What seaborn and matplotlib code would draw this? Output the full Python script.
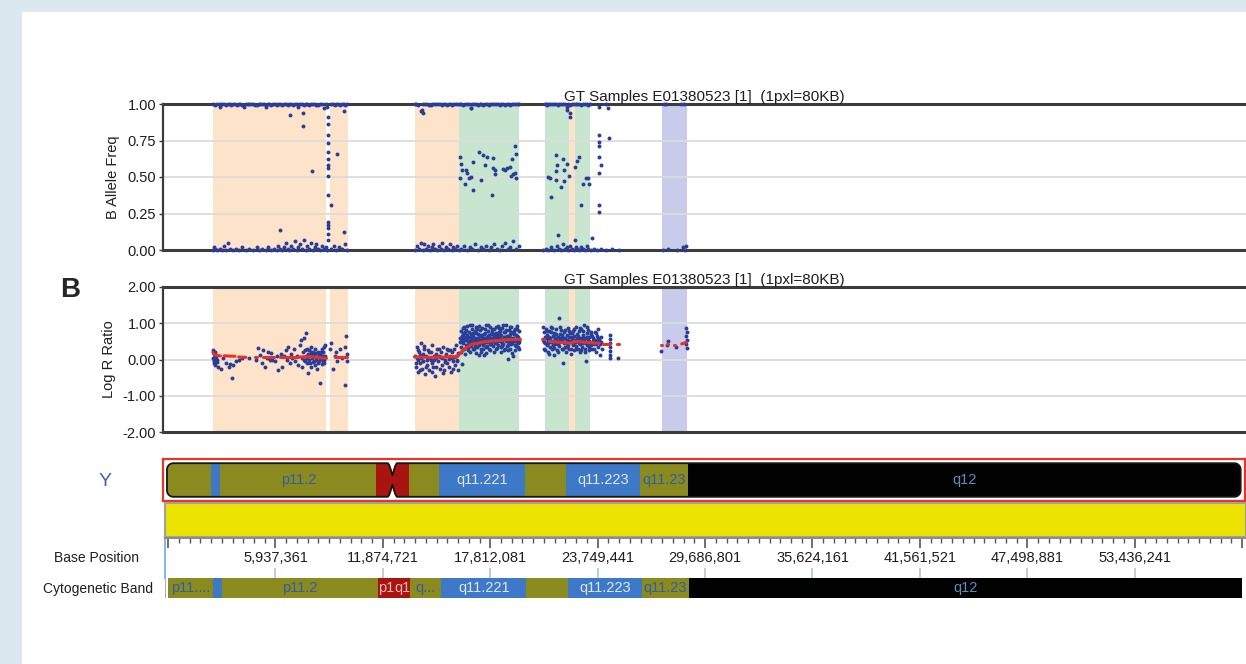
import numpy as np
import pandas as pd
import matplotlib
matplotlib.use("Agg")
import matplotlib.pyplot as plt
from matplotlib.patches import Rectangle, Polygon
import seaborn as sns

sns.set_theme(style="white")
plt.rcParams["font.family"] = ["Liberation Sans", "DejaVu Sans"]

# ---------------------------------------------------------------- data
SAMPLE_TITLE = "GT Samples E01380523 [1]  (1pxl=80KB)"
CHROM_NAME = "Y"
CHROM_LEN = 59.373566          # Mb
X_LIM = (-0.17, 59.59)

# cytogenetic bands of chrY (Mb)
band_start = [0.0, 2.5, 3.0, 11.6, 12.5, 13.4, 15.1, 19.8, 22.1, 26.2, 28.8]
band_end = [2.5, 3.0, 11.6, 12.5, 13.4, 15.1, 19.8, 22.1, 26.2, 28.8, 59.373566]
band_stain = ["olive", "blue", "olive", "cen", "cen", "olive", "blue", "olive", "blue", "olive", "black"]
ideo_label = ["", "", "p11.2", "", "", "", "q11.221", "", "q11.223", "q11.23", "q12"]
track_label = ["p11....", "", "p11.2", "p1", "q1", "q...", "q11.221", "", "q11.223", "q11.23", "q12"]

# base position ruler
base_ticks = [1 + i * 5937360 for i in range(11)]
base_labels = ["", "5,937,361", "11,874,721", "17,812,081", "23,749,441", "29,686,801",
               "35,624,161", "41,561,521", "47,498,881", "53,436,241", ""]

# highlighted CNV / LOH regions (start Mb, end Mb, kind)
region_start = [2.57, 9.03, 13.72, 16.19, 20.89, 22.23, 22.58, 27.39]
region_end = [8.81, 10.02, 16.19, 19.50, 22.23, 22.58, 23.37, 28.72]
region_kind = ["loh", "loh", "loh", "gain", "gain", "loh", "gain", "other"]

baf_ticks = [0.0, 0.25, 0.5, 0.75, 1.0]
baf_ticklabels = ["0.00", "0.25", "0.50", "0.75", "1.00"]
lrr_ticks = [-2, -1, 0, 1, 2]
lrr_ticklabels = ["-2.00", "-1.00", "0.00", "1.00", "2.00"]

# B allele frequency: homozygous calls near 1
baf_high = [(2.6, 1.0), (2.7, 0.99), (2.8, 1.0), (2.95, 0.98), (3.1, 1.0), (3.3, 0.99), (3.5, 1.0),
            (3.7, 1.0), (3.9, 0.99), (4.1, 1.0), (4.3, 0.98), (4.5, 1.0), (4.7, 1.0), (4.9, 0.99),
            (5.1, 1.0), (5.3, 1.0), (5.5, 0.98), (5.7, 1.0), (5.9, 1.0), (6.1, 0.99), (6.3, 1.0),
            (6.5, 1.0), (6.7, 0.99), (6.9, 1.0), (7.1, 1.0), (7.3, 0.98), (7.5, 1.0), (7.7, 1.0),
            (7.9, 0.99), (8.1, 1.0), (8.3, 0.99), (8.5, 1.0), (8.7, 0.97), (8.8, 1.0), (8.9, 0.98),
            (9.1, 1.0), (9.3, 0.99), (9.5, 1.0), (9.7, 1.0), (9.9, 0.99), (10.0, 1.0),
            (3.0, 1.0), (3.2, 1.0), (3.4, 1.0), (3.6, 0.99), (3.8, 1.0), (4.0, 1.0), (4.2, 0.99),
            (4.4, 1.0), (4.6, 1.0), (4.8, 1.0), (5.0, 0.99), (5.2, 1.0), (5.4, 1.0), (5.6, 1.0),
            (5.8, 0.99), (6.0, 1.0), (6.2, 1.0), (6.4, 0.99), (6.6, 1.0), (6.8, 1.0), (7.0, 0.99),
            (7.2, 1.0), (7.4, 1.0), (7.6, 0.99), (7.8, 1.0), (8.0, 1.0), (8.2, 1.0), (8.4, 0.99),
            (8.6, 1.0), (9.2, 1.0), (9.4, 1.0), (9.6, 0.99), (9.8, 1.0),
            (13.75, 1.0), (13.9, 0.99), (14.05, 0.95), (14.1, 0.96), (14.2, 1.0), (14.4, 1.0),
            (14.6, 0.99), (14.8, 1.0), (15.0, 1.0), (15.2, 0.99), (15.4, 1.0), (15.6, 1.0),
            (15.8, 0.99), (16.0, 1.0), (16.2, 1.0), (16.4, 0.99), (16.6, 1.0), (16.8, 0.97),
            (17.0, 1.0), (17.2, 0.99), (17.4, 1.0), (17.6, 1.0), (17.8, 0.99), (18.0, 1.0),
            (18.2, 1.0), (18.4, 0.99), (18.6, 1.0), (18.8, 1.0), (19.0, 0.99), (19.2, 1.0), (19.4, 1.0),
            (13.8, 1.0), (14.3, 1.0), (14.5, 0.99), (14.7, 1.0), (14.9, 1.0), (15.1, 1.0), (15.3, 1.0),
            (15.5, 0.99), (15.7, 1.0), (15.9, 1.0), (16.1, 1.0), (16.3, 1.0), (16.5, 1.0), (16.7, 1.0),
            (16.9, 1.0), (17.1, 1.0), (17.3, 1.0), (17.5, 0.99), (17.7, 1.0), (17.9, 1.0), (18.1, 1.0),
            (18.3, 1.0), (18.5, 1.0), (18.7, 0.99), (18.9, 1.0), (19.1, 1.0), (19.3, 1.0), (19.5, 1.0),
            (20.9, 1.0), (21.0, 0.99), (21.2, 1.0), (21.4, 1.0), (21.6, 0.99), (21.8, 1.0), (22.0, 1.0),
            (22.1, 0.98), (22.15, 0.96), (22.2, 1.0), (22.3, 0.99), (22.5, 1.0), (22.7, 1.0),
            (22.9, 0.99), (23.1, 1.0), (23.3, 0.99), (23.9, 0.98), (24.3, 1.0), (24.4, 0.97),
            (20.95, 1.0), (21.1, 1.0), (21.3, 1.0), (21.5, 1.0), (21.7, 1.0), (21.9, 1.0), (22.4, 1.0),
            (22.6, 1.0), (22.8, 1.0), (23.0, 1.0), (23.2, 1.0), (23.4, 1.0),
            (27.45, 1.0), (27.6, 1.0), (28.4, 1.0), (28.6, 1.0)]

# B allele frequency: homozygous calls near 0
baf_low = [(2.6, 0.0), (2.65, 0.02), (2.72, 0.01), (2.8, 0.0), (2.95, 0.01), (3.1, 0.0), (3.2, 0.03),
           (3.3, 0.0), (3.4, 0.05), (3.55, 0.01), (3.7, 0.0), (3.85, 0.01), (4.0, 0.0), (4.2, 0.02),
           (4.4, 0.0), (4.6, 0.01), (4.8, 0.0), (5.0, 0.02), (5.15, 0.0), (5.3, 0.01), (5.5, 0.0),
           (5.65, 0.02), (5.8, 0.0), (5.95, 0.01), (6.1, 0.0), (6.2, 0.03), (6.3, 0.01), (6.4, 0.0),
           (6.5, 0.02), (6.6, 0.05), (6.7, 0.01), (6.8, 0.0), (6.9, 0.03), (7.0, 0.01), (7.1, 0.06),
           (7.2, 0.0), (7.3, 0.02), (7.4, 0.04), (7.5, 0.01), (7.6, 0.07), (7.7, 0.0), (7.8, 0.03),
           (7.9, 0.01), (8.0, 0.05), (8.1, 0.0), (8.2, 0.02), (8.3, 0.04), (8.4, 0.01), (8.5, 0.0),
           (8.6, 0.03), (8.7, 0.01), (8.8, 0.02), (8.9, 0.0), (9.1, 0.01), (9.25, 0.03), (9.4, 0.0),
           (9.55, 0.02), (9.7, 0.01), (9.85, 0.04), (10.0, 0.0),
           (13.75, 0.0), (13.85, 0.03), (13.95, 0.01), (14.05, 0.05), (14.15, 0.0), (14.25, 0.04),
           (14.35, 0.01), (14.45, 0.03), (14.55, 0.0), (14.65, 0.02), (14.75, 0.04), (14.85, 0.01),
           (14.95, 0.0), (15.05, 0.03), (15.15, 0.01), (15.25, 0.05), (15.35, 0.0), (15.45, 0.02),
           (15.55, 0.01), (15.65, 0.04), (15.75, 0.0), (15.85, 0.02), (15.95, 0.01), (16.05, 0.03),
           (16.15, 0.0), (16.3, 0.01), (16.45, 0.03), (16.6, 0.0), (16.75, 0.02), (16.9, 0.01),
           (17.05, 0.04), (17.2, 0.0), (17.35, 0.02), (17.5, 0.01), (17.65, 0.03), (17.8, 0.0),
           (17.95, 0.02), (18.1, 0.04), (18.25, 0.01), (18.4, 0.0), (18.55, 0.03), (18.7, 0.05),
           (18.85, 0.01), (19.0, 0.02), (19.15, 0.06), (19.3, 0.01), (19.45, 0.03),
           (20.8, 0.0), (20.95, 0.01), (21.1, 0.0), (21.25, 0.02), (21.4, 0.0), (21.55, 0.03),
           (21.7, 0.01), (21.8, 0.0), (21.9, 0.04), (22.0, 0.01), (22.1, 0.02), (22.2, 0.0),
           (22.3, 0.03), (22.4, 0.01), (22.5, 0.0), (22.6, 0.02), (22.7, 0.01), (22.8, 0.0),
           (22.9, 0.02), (23.0, 0.01), (23.1, 0.0), (23.2, 0.03), (23.3, 0.01), (23.45, 0.0),
           (23.6, 0.01), (23.8, 0.0), (24.0, 0.01), (24.3, 0.0), (24.6, 0.01), (25.0, 0.0),
           (27.4, 0.0), (27.7, 0.01), (28.2, 0.0), (28.5, 0.02), (28.65, 0.0), (28.7, 0.03)]

# B allele frequency: intermediate values
baf_mid = [(6.86, 0.925), (7.55, 0.94), (7.58, 0.85), (8.05, 0.54), (6.31, 0.14), (9.41, 0.66),
           (9.84, 0.12), (9.80, 0.95),
           (8.96, 0.91), (8.96, 0.86), (8.96, 0.79), (8.96, 0.73), (8.96, 0.67), (8.96, 0.62),
           (8.96, 0.58), (8.96, 0.565), (8.96, 0.51), (8.96, 0.38), (9.12, 0.31), (8.96, 0.19),
           (8.96, 0.17), (8.96, 0.15), (8.96, 0.11), (8.96, 0.07),
           (14.18, 0.94), (16.85, 0.97),
           (16.24, 0.64), (16.29, 0.59), (16.33, 0.55), (16.24, 0.49), (16.48, 0.45), (16.57, 0.55),
           (16.63, 0.53), (16.70, 0.49), (16.85, 0.50), (16.93, 0.60), (16.93, 0.41), (17.25, 0.67),
           (17.36, 0.48), (17.49, 0.65), (17.58, 0.58), (17.73, 0.64), (17.97, 0.38), (18.04, 0.63),
           (18.06, 0.56), (18.13, 0.55), (18.17, 0.52), (18.59, 0.555), (18.72, 0.55), (18.83, 0.56),
           (18.96, 0.57), (19.02, 0.51), (19.09, 0.62), (19.14, 0.52), (19.24, 0.71), (19.29, 0.66),
           (19.27, 0.53), (19.33, 0.49),
           (21.22, 0.36), (21.07, 0.50), (21.21, 0.49), (21.54, 0.65), (21.59, 0.58), (21.50, 0.54),
           (21.54, 0.48), (21.81, 0.43), (21.88, 0.62), (21.96, 0.55), (21.96, 0.47), (22.12, 0.59),
           (22.22, 0.51), (22.31, 0.91), (22.27, 0.94), (22.55, 0.57), (22.70, 0.61), (22.77, 0.64),
           (22.92, 0.31), (23.00, 0.45), (23.15, 0.49), (23.28, 0.49), (23.34, 0.45), (21.65, 0.10),
           (22.55, 0.07), (23.50, 0.085),
           (23.89, 0.79), (23.89, 0.74), (23.89, 0.71), (23.89, 0.64), (23.98, 0.58), (23.89, 0.53),
           (23.89, 0.31), (23.89, 0.26), (24.46, 0.77)]

# Log R ratio probes
lrr_points = [
    (2.58, 0.25), (2.6, 0.05), (2.62, -0.1), (2.63, 0.15), (2.65, 0.0), (2.67, -0.05), (2.68, 0.2),
    (2.7, 0.1), (2.72, -0.15), (2.74, 0.05), (2.76, -0.02), (2.78, 0.12), (2.8, -0.08), (2.82, 0.0),
    (2.85, -0.2), (3.05, -0.25), (3.15, 0.05), (3.3, -0.1), (3.45, -0.22), (3.55, -0.12), (3.62, -0.5),
    (3.72, -0.15), (3.85, -0.05), (4.0, 0.0), (4.2, 0.05), (4.6, 0.05), (4.95, 0.0),
    (5.07, 0.31), (5.2, 0.12), (5.3, -0.1), (5.36, 0.26), (5.45, -0.2), (5.55, 0.05), (5.65, 0.22),
    (5.72, -0.02), (5.8, 0.18), (5.86, 0.0), (6.0, -0.05), (6.12, 0.1), (6.2, -0.29), (6.32, 0.15),
    (6.42, -0.2), (6.5, 0.1), (6.6, 0.25), (6.68, 0.0), (6.75, 0.35), (6.85, -0.1), (6.9, 0.15),
    (6.95, 0.05), (7.05, 0.28), (7.1, -0.05), (7.2, 0.1), (7.3, -0.15), (7.38, 0.4), (7.45, 0.54),
    (7.5, 0.05), (7.52, -0.2), (7.58, 0.2), (7.62, 0.58), (7.65, -0.05), (7.7, 0.1), (7.72, 0.72),
    (7.75, 0.3), (7.8, -0.1), (7.82, 0.15), (7.85, -0.36), (7.88, 0.25), (7.9, 0.0), (7.95, 0.12),
    (8.0, -0.2), (8.02, 0.35), (8.05, 0.05), (8.1, -0.08), (8.12, 0.2), (8.15, 0.1), (8.2, -0.15),
    (8.22, 0.3), (8.25, 0.0), (8.3, 0.18), (8.33, -0.25), (8.36, 0.08), (8.4, 0.22), (8.42, -0.05),
    (8.45, 0.12), (8.5, -0.64), (8.52, 0.15), (8.55, 0.02), (8.58, -0.12), (8.6, 0.28), (8.62, 0.1),
    (8.65, -0.05), (8.68, 0.2), (8.7, 0.35), (8.72, 0.0), (8.75, 0.4), (8.78, 0.1), (7.6, 0.0),
    (7.68, 0.25), (7.78, 0.05), (7.92, -0.1), (7.98, 0.2), (8.08, 0.15), (8.18, -0.05), (8.28, 0.08),
    (8.38, -0.1), (8.48, 0.05), (8.57, 0.2), (8.66, 0.1), (8.74, -0.1), (9.05, 0.3), (9.1, 0.45),
    (9.2, -0.25), (9.3, 0.1), (9.36, 0.2), (9.45, -0.05), (9.6, 0.3), (9.7, 0.05), (9.85, 0.35),
    (9.9, -0.69), (9.95, 0.65), (10.0, 0.15), (9.98, -0.05),
    (13.75, 0.1), (13.8, -0.2), (13.82, 0.35), (13.88, 0.0), (13.9, -0.35), (13.95, 0.2), (14.0, -0.1),
    (14.05, 0.45), (14.08, 0.05), (14.12, -0.25), (14.18, 0.15), (14.2, -0.05), (14.25, 0.3),
    (14.3, -0.4), (14.35, 0.1), (14.38, 0.0), (14.42, -0.15), (14.48, 0.25), (14.5, -0.3), (14.55, 0.05),
    (14.6, 0.2), (14.65, -0.1), (14.68, 0.4), (14.72, -0.2), (14.78, 0.1), (14.8, 0.0), (14.85, -0.45),
    (14.9, 0.15), (14.95, 0.3), (15.0, -0.05), (15.05, 0.1), (15.1, -0.25), (15.15, 0.2), (15.2, 0.05),
    (15.25, -0.15), (15.3, 0.35), (15.35, -0.3), (15.4, 0.0), (15.45, 0.15), (15.5, -0.1), (15.55, 0.25),
    (15.6, -0.2), (15.65, 0.1), (15.7, -0.35), (15.75, 0.05), (15.8, 0.2), (15.85, -0.05), (15.9, 0.3),
    (15.95, -0.15), (16.0, 0.1), (16.05, 0.0), (16.1, 0.18), (13.85, 0.05), (14.0, 0.12), (14.15, -0.05),
    (14.4, 0.08), (14.62, -0.02), (14.88, 0.05), (15.12, 0.08), (15.38, -0.08), (15.62, 0.02),
    (15.88, 0.08), (16.08, -0.05),
    (13.78, -0.1), (13.92, 0.25), (14.02, -0.3), (14.22, 0.38), (14.32, -0.2), (14.52, 0.2),
    (14.7, -0.35), (14.92, -0.2), (15.08, 0.28), (15.28, -0.38), (15.48, 0.3), (15.68, 0.25),
    (15.82, -0.25), (15.98, 0.4), (16.12, -0.3),
    (16.22, 0.6), (16.25, 0.35), (16.28, 0.8), (16.3, 0.5), (16.33, -0.12), (16.36, 0.7), (16.4, 0.45),
    (16.43, 0.9), (16.46, 0.3), (16.5, 0.62), (16.53, 0.55), (16.56, 0.82), (16.6, 0.4), (16.63, 0.68),
    (16.66, 0.25), (16.7, 0.75), (16.73, 0.5), (16.76, 0.95), (16.8, 0.38), (16.83, 0.6), (16.86, 0.48),
    (16.9, 0.85), (16.93, 0.3), (16.96, 0.66), (17.0, 0.55), (17.03, 0.78), (17.06, 0.42), (17.1, 0.9),
    (17.13, 0.6), (17.16, 0.35), (17.2, 0.7), (17.23, 0.5), (17.26, 0.12), (17.3, 0.82), (17.33, 0.45),
    (17.36, 0.65), (17.4, 0.28), (17.43, 0.58), (17.46, 0.88), (17.5, 0.4), (17.53, 0.7), (17.56, 0.12),
    (17.6, 0.52), (17.63, 0.95), (17.66, 0.35), (17.7, 0.62), (17.73, 0.48), (17.76, 0.8), (17.8, 0.3),
    (17.83, 0.68), (17.86, 0.55), (17.9, 0.9), (17.93, 0.42), (17.96, 0.6), (18.0, 0.75), (18.03, 0.38),
    (18.06, 0.58), (18.1, 0.85), (18.13, 0.45), (18.16, 0.65), (18.2, 0.3), (18.23, 0.72), (18.26, 0.52),
    (18.3, 0.92), (18.33, 0.4), (18.36, 0.62), (18.4, 0.5), (18.43, 0.8), (18.46, 0.35), (18.5, 0.68),
    (18.53, 0.55), (18.56, 0.88), (18.6, 0.42), (18.63, 0.6), (18.66, 0.25), (18.7, 0.75), (18.73, 0.5),
    (18.76, 0.95), (18.8, 0.38), (18.83, 0.65), (18.86, 0.02), (18.9, 0.82), (18.93, 0.48), (18.96, 0.7),
    (19.0, 0.3), (19.03, 0.6), (19.06, 0.9), (19.1, 0.45), (19.13, 0.72), (19.16, 0.1), (19.2, 0.55),
    (19.23, 0.85), (19.26, 0.4), (19.3, 0.68), (19.33, 0.5), (19.36, 0.92), (19.4, 0.35), (19.43, 0.62),
    (19.46, 0.78), (19.5, 0.48), (16.24, 0.48), (16.34, 0.58), (16.45, 0.72), (16.55, 0.4), (16.65, 0.52),
    (16.75, 0.62), (16.85, 0.7), (16.95, 0.45), (17.05, 0.6), (17.15, 0.5), (17.25, 0.4), (17.35, 0.55),
    (17.45, 0.68), (17.55, 0.45), (17.65, 0.58), (17.75, 0.65), (17.85, 0.42), (17.95, 0.52), (18.05, 0.7),
    (18.15, 0.5), (18.25, 0.6), (18.35, 0.75), (18.45, 0.55), (18.55, 0.45), (18.65, 0.62), (18.75, 0.58),
    (18.85, 0.4), (18.95, 0.55), (19.05, 0.75), (19.15, 0.6), (19.25, 0.5), (19.35, 0.65), (19.45, 0.55),
    (16.27, 0.2), (16.38, 0.88), (16.48, 0.15), (16.58, 0.92), (16.68, 0.33), (16.78, 0.22), (16.88, 0.95),
    (16.98, 0.28), (17.08, 0.18), (17.18, 0.85), (17.28, 0.92), (17.38, 0.22), (17.48, 0.3), (17.58, 0.85),
    (17.68, 0.18), (17.78, 0.95), (17.88, 0.25), (17.98, 0.85), (18.08, 0.2), (18.18, 0.9), (18.28, 0.32),
    (18.38, 0.88), (18.48, 0.2), (18.58, 0.95), (18.68, 0.3), (18.78, 0.82), (18.88, 0.25), (18.98, 0.9),
    (19.08, 0.18), (19.18, 0.8), (19.28, 0.25), (19.38, 0.85), (19.48, 0.3),
    (16.32, 0.65), (16.42, 0.55), (16.52, 0.75), (16.62, 0.6), (16.72, 0.42), (16.82, 0.52), (16.92, 0.72),
    (17.02, 0.35), (17.12, 0.72), (17.22, 0.6), (17.32, 0.68), (17.42, 0.5), (17.52, 0.6), (17.62, 0.72),
    (17.72, 0.38), (17.82, 0.58), (17.92, 0.7), (18.02, 0.5), (18.12, 0.62), (18.22, 0.45), (18.32, 0.68),
    (18.42, 0.6), (18.52, 0.38), (18.62, 0.75), (18.72, 0.62), (18.82, 0.52), (18.92, 0.66), (19.02, 0.42),
    (19.12, 0.52), (19.22, 0.7), (19.32, 0.38), (19.42, 0.45),
    (20.8, 0.55), (20.83, 0.75), (20.86, 0.3), (20.9, 0.62), (20.93, 0.45), (20.96, 0.85), (21.0, 0.4),
    (21.03, 0.68), (21.06, 0.2), (21.1, 0.55), (21.13, 0.78), (21.16, 0.35), (21.2, 0.6), (21.23, 0.48),
    (21.26, 0.9), (21.3, 0.3), (21.33, 0.65), (21.36, 0.52), (21.4, 0.12), (21.43, 0.72), (21.46, 0.42),
    (21.5, 0.58), (21.53, 0.85), (21.56, 0.25), (21.6, 0.62), (21.63, 0.45), (21.66, 1.14), (21.7, 0.38),
    (21.73, 0.7), (21.76, 0.5), (21.8, 0.82), (21.83, 0.3), (21.86, 0.6), (21.9, -0.09), (21.93, 0.45),
    (21.96, 0.75), (22.0, 0.35), (22.03, 0.58), (22.06, 0.2), (22.1, 0.68), (22.13, 0.48), (22.16, 0.88),
    (22.2, 0.4), (22.23, 0.62), (22.26, 0.3), (22.3, 0.72), (22.33, 0.52), (22.36, 0.15), (22.4, 0.6),
    (22.43, 0.8), (22.46, 0.42), (22.5, 0.65), (22.53, 0.25), (22.56, 0.55), (22.6, 0.9), (22.63, 0.38),
    (22.66, 0.7), (22.7, 0.5), (22.73, 0.3), (22.76, 0.78), (22.8, 0.45), (22.83, 0.6), (22.86, 0.2),
    (22.9, 0.85), (22.93, 0.52), (22.96, 0.35), (23.0, 0.68), (23.03, 0.45), (23.06, 0.95), (23.1, 0.3),
    (23.13, 0.6), (23.16, -0.04), (23.2, 0.72), (23.23, 0.4), (23.26, 0.55), (23.3, 0.82), (23.33, 0.25),
    (23.36, 0.62), (23.4, 0.45), (23.45, 0.7), (23.5, 0.3), (23.55, 0.58), (23.6, 0.42), (23.65, 0.75),
    (23.7, 0.2), (23.75, 0.5), (23.8, 0.65), (23.85, 0.35), (23.9, 0.55), (23.95, 0.12), (24.0, 0.48),
    (24.05, 0.3), (20.85, 0.48), (20.95, 0.58), (21.05, 0.45), (21.15, 0.62), (21.25, 0.5), (21.35, 0.4),
    (21.45, 0.6), (21.55, 0.5), (21.65, 0.42), (21.75, 0.58), (21.85, 0.5), (21.95, 0.6), (22.05, 0.45),
    (22.15, 0.55), (22.25, 0.5), (22.35, 0.62), (22.45, 0.4), (22.55, 0.48), (22.65, 0.58), (22.75, 0.5),
    (22.85, 0.42), (22.95, 0.6), (23.05, 0.52), (23.15, 0.45), (23.25, 0.62), (23.35, 0.5), (23.45, 0.4),
    (23.55, 0.5), (23.65, 0.55), (23.75, 0.42), (23.85, 0.6),
    (20.82, 0.9), (20.92, 0.25), (21.02, 0.8), (21.12, 0.15), (21.22, 0.75), (21.32, 0.88), (21.42, 0.32),
    (21.52, 0.7), (21.62, 0.22), (21.72, 0.9), (21.82, 0.68), (21.92, 0.28), (22.02, 0.82), (22.12, 0.35),
    (22.22, 0.78), (22.32, 0.28), (22.42, 0.72), (22.52, 0.85), (22.62, 0.3), (22.72, 0.65), (22.82, 0.88),
    (22.92, 0.25), (23.02, 0.78), (23.12, 0.2), (23.22, 0.9), (23.32, 0.35), (23.42, 0.75), (23.52, 0.65),
    (23.62, 0.28), (23.72, 0.72), (23.82, 0.85), (23.92, 0.42), (24.02, 0.62),
    (24.5, 0.68), (24.52, 0.56), (24.5, 0.45), (24.52, 0.34), (24.5, 0.23), (24.52, 0.12),
    (24.5, 0.03), (24.92, 0.03),
    (27.33, 0.23), (27.69, 0.52), (27.64, 0.40), (28.16, 0.35), (28.7, 0.86), (28.72, 0.75),
    (28.7, 0.64), (28.72, 0.53), (28.7, 0.42), (28.74, 0.31)]

# smoothed Log R ratio, drawn as separate runs
lrr_smooth = [
    [(2.58, 0.20), (2.65, 0.14), (2.8, 0.11), (3.0, 0.10)],
    [(3.2, 0.10), (3.8, 0.09)],
    [(4.0, 0.07), (4.4, 0.06)],
    [(4.9, 0.06), (5.0, 0.06)],
    [(5.35, 0.07), (5.95, 0.07)],
    [(6.3, 0.06), (7.3, 0.06)],
    [(7.4, 0.07), (8.0, 0.08), (8.5, 0.05), (8.85, 0.03)],
    [(9.3, 0.06), (10.0, 0.06)],
    [(13.7, 0.07), (14.5, 0.06), (15.5, 0.07), (16.08, 0.08), (16.38, 0.26), (16.85, 0.42),
     (17.58, 0.49), (18.68, 0.54), (19.55, 0.56)],
    [(20.78, 0.56), (20.9, 0.55)],
    [(21.15, 0.50), (21.8, 0.47), (22.3, 0.45), (22.6, 0.50), (23.0, 0.48), (23.5, 0.46), (23.9, 0.45)],
    [(24.1, 0.44), (24.5, 0.44)],
    [(24.9, 0.44), (25.0, 0.44)],
    [(27.3, 0.40), (27.36, 0.40)],
    [(27.62, 0.42), (27.68, 0.42)],
    [(28.0, 0.40), (28.06, 0.40)],
    [(28.45, 0.43), (28.7, 0.47)]]

# ---------------------------------------------------------------- style
DOT = "#2a3d98"
TREND = "#ea2f24"
SHADE = {"loh": "#fde3c9", "gain": "#c8e5d0", "other": "#c9cbea"}
STAIN = {"olive": "#8a8a1e", "blue": "#3d79c6", "cen": "#a81410", "black": "#020203"}
IDEO_TXT = {"olive": "#2e5ea6", "blue": "#dfe7f3", "cen": "#f3b7b4", "black": "#5d8fba"}
SPINE = "#3c3c3c"
TXT = "#1e1e1e"
W, H = 1246, 664


def box(left, top, right, bottom):
    return [left / W, 1 - bottom / H, (right - left) / W, (bottom - top) / H]


fig = plt.figure(figsize=(W / 100, H / 100), dpi=100, facecolor="#dce8f0")
fig.patches.append(Rectangle((22 / W, 0), 1 - 22 / W, 1 - 12 / H, transform=fig.transFigure,
                             facecolor="white", edgecolor="none", zorder=-5))

baf_df = pd.DataFrame(baf_high + baf_low + baf_mid, columns=["pos", "baf"])
lrr_df = pd.DataFrame(lrr_points, columns=["pos", "lrr"])


def style_track(ax, ticks, ticklabels, ylim, ylabel):
    ax.set_xlim(*X_LIM)
    ax.set_ylim(*ylim)
    for s, e, k in zip(region_start, region_end, region_kind):
        ax.axvspan(s, e, color=SHADE[k], lw=0, zorder=0)
    for t in ticks[1:-1]:
        ax.axhline(t, color="#dcdcdc", lw=1.3, zorder=0.5)
    ax.set_yticks(ticks)
    ax.set_yticklabels(ticklabels, fontsize=10.5, color=TXT)
    ax.set_xticks([])
    ax.set_xlabel("")
    ax.set_ylabel(ylabel, fontsize=10.5, labelpad=5, color=TXT)
    ax.tick_params(axis="y", length=3, width=1, color=SPINE, pad=2, left=True)
    for side in ["top", "bottom"]:
        ax.spines[side].set_color(SPINE)
        ax.spines[side].set_linewidth(2.2)
    ax.spines["left"].set_color(SPINE)
    ax.spines["left"].set_linewidth(1.6)
    ax.spines["right"].set_visible(False)
    ax.set_title(SAMPLE_TITLE, fontsize=11, pad=2, color=TXT)


# ---- B allele frequency track
ax_baf = fig.add_axes(box(163, 104, 1246, 250))
sns.scatterplot(data=baf_df, x="pos", y="baf", ax=ax_baf, color=DOT, s=8, linewidth=0,
                clip_on=False, zorder=3)
style_track(ax_baf, baf_ticks, baf_ticklabels, (0, 1), "B Allele Freq")

# ---- Log R ratio track
ax_lrr = fig.add_axes(box(163, 287, 1246, 432))
sns.scatterplot(data=lrr_df, x="pos", y="lrr", ax=ax_lrr, color=DOT, s=8, linewidth=0, zorder=3)
for run in lrr_smooth:
    run_df = pd.DataFrame(run, columns=["pos", "lrr"])
    sns.lineplot(data=run_df, x="pos", y="lrr", ax=ax_lrr, color=TREND, lw=2.2,
                 estimator=None, sort=True, zorder=4)
style_track(ax_lrr, lrr_ticks, lrr_ticklabels, (-2, 2), "Log R Ratio")
fig.text(70 / W, 1 - 290 / H, "B", fontsize=20, fontweight="bold", ha="center", va="center")

# ---- chromosome ideogram
ax_id = fig.add_axes(box(163, 459, 1245, 501))
ax_id.set_xlim(*X_LIM)
ax_id.set_ylim(0, 1)
ax_id.set_xticks([])
ax_id.set_yticks([])
for sp in ax_id.spines.values():
    sp.set_color("#e8322c")
    sp.set_linewidth(1.6)

xa, xb, y0, y1 = 0.05, 59.35, 0.10, 0.90
rx, ry = 0.35, 0.15
cen_x, cen_w, cen_d = band_end[3], 0.25, 0.30
arc = np.linspace(0, np.pi / 2, 8)
notch = np.linspace(-1, 1, 11)
verts = [(xa + rx - rx * np.cos(a), y0 + ry - ry * np.sin(a)) for a in arc]
verts += [(cen_x + cen_w * t, y0 + cen_d * (1 - abs(t)) ** 1.5) for t in notch]
verts += [(xb - rx + rx * np.sin(a), y0 + ry - ry * np.cos(a)) for a in arc]
verts += [(xb - rx + rx * np.cos(a), y1 - ry + ry * np.sin(a)) for a in arc]
verts += [(cen_x - cen_w * t, y1 - cen_d * (1 - abs(t)) ** 1.5) for t in notch]
verts += [(xa + rx - rx * np.sin(a), y1 - ry + ry * np.cos(a)) for a in arc]
body = Polygon(verts, closed=True, facecolor="none", edgecolor="#151515", lw=1.3, zorder=5)
ax_id.add_patch(body)
bars = ax_id.broken_barh([(s, e - s) for s, e in zip(band_start, band_end)], (0, 1),
                         facecolors=[STAIN[k] for k in band_stain], edgecolor="none", zorder=2)
bars.set_clip_path(body)
for s, e, k, lab in zip(band_start, band_end, band_stain, ideo_label):
    if lab:
        ax_id.text((s + e) / 2, 0.5, lab, ha="center", va="center", fontsize=10.5,
                   color=IDEO_TXT[k], zorder=6)
fig.text(105 / W, 1 - 481 / H, CHROM_NAME, fontsize=14, color="#3f63b5", ha="center", va="center")

# ---- yellow coverage bar
ax_yel = fig.add_axes(box(165, 503, 1246, 537))
ax_yel.set_facecolor("#ebe202")
ax_yel.set_xticks([])
ax_yel.set_yticks([])
for sp in ax_yel.spines.values():
    sp.set_color("#a0a0a0")
    sp.set_linewidth(1.5)

# ---- base position ruler
ax_bp = fig.add_axes(box(165, 538, 1246, 578))
ax_bp.set_xlim(*X_LIM)
ax_bp.set_ylim(0, 1)
ax_bp.set_yticks([])
ticks_mb = [t / 1e6 for t in base_ticks]
minor_mb = [base_ticks[0] / 1e6 + i * 0.593736 for i in range(101)]
ax_bp.set_xticks(ticks_mb)
ax_bp.set_xticks(minor_mb, minor=True)
ax_bp.tick_params(axis="x", which="both", top=True, bottom=False, labeltop=False,
                  labelbottom=False, direction="in", color="#555555")
ax_bp.tick_params(axis="x", which="major", length=7, width=1.2)
ax_bp.tick_params(axis="x", which="minor", length=3.5, width=1)
for t, lab in zip(ticks_mb, base_labels):
    if lab:
        ax_bp.text(t, 0.5, lab, ha="center", va="center", fontsize=10.5, color=TXT)
ax_bp.vlines(ticks_mb[1:-1], 0, 0.26, color="#a9c8e4", lw=1.2)
ax_bp.spines["top"].set_color("#8c8c8c")
ax_bp.spines["top"].set_linewidth(1.5)
ax_bp.spines["left"].set_color("#8fb8e0")
ax_bp.spines["left"].set_linewidth(1.5)
ax_bp.spines["right"].set_visible(False)
ax_bp.spines["bottom"].set_visible(False)
ax_bp.set_facecolor("none")
fig.text(97 / W, 1 - 558 / H, "Base Position", fontsize=10, ha="center", va="center", color=TXT)

# ---- cytogenetic band track
ax_cb = fig.add_axes(box(165, 578, 1246, 598))
ax_cb.set_xlim(*X_LIM)
ax_cb.set_ylim(0, 1)
ax_cb.broken_barh([(s, e - s) for s, e in zip(band_start, band_end)], (0, 1),
                  facecolors=[STAIN[k] for k in band_stain], edgecolor="none")
for s, e, k, lab in zip(band_start, band_end, band_stain, track_label):
    if lab:
        ax_cb.text((s + e) / 2, 0.5, lab, ha="center", va="center", fontsize=10.5,
                   color=IDEO_TXT[k], clip_on=True)
ax_cb.set_xticks([])
ax_cb.set_yticks([])
for sp in ax_cb.spines.values():
    sp.set_visible(False)
ax_cb.axvline(X_LIM[0], color="#8fb8e0", lw=1.5)
fig.text(98 / W, 1 - 589 / H, "Cytogenetic Band", fontsize=10, ha="center", va="center", color=TXT)

fig.savefig("out.png", dpi=100, facecolor=fig.get_facecolor())
